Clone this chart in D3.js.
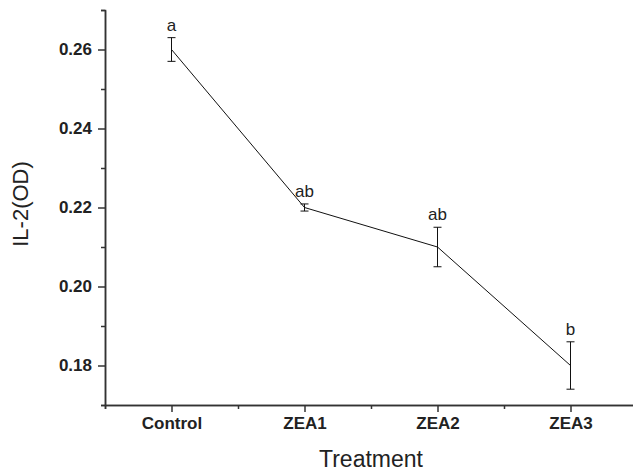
<!DOCTYPE html>
<html>
<head>
<meta charset="utf-8">
<script src="https://cdn.jsdelivr.net/npm/d3@7"></script>
<style>
  body { margin: 0; background: #fff; }
  svg { display: block; font-family: "Liberation Sans", Arial, sans-serif; }
</style>
</head>
<body>
<div id="chart"></div>
<script>
// values
var categories = ["Control", "ZEA1", "ZEA2", "ZEA3"];
var means = [0.260, 0.220, 0.210, 0.180];
var errors = [0.003, 0.0009, 0.005, 0.006];
var letters = ["a", "ab", "ab", "b"];
var yTicks = [0.18, 0.20, 0.22, 0.24, 0.26];
var yMinor = [0.17, 0.19, 0.21, 0.23, 0.25, 0.27];

var width = 633, height = 472;
var margin = {top: 10, right: -4, bottom: 67, left: 105};

var svg = d3.select("#chart")
  .append("svg")
    .attr("width", width)
    .attr("height", height);

// x is a linear scale over slots, categories sit in the middle of each
var x = d3.scaleLinear()
  .domain([0, categories.length])
  .range([margin.left, width - margin.right]);

var y = d3.scaleLinear()
  .domain([0.17, 0.27])
  .range([height - margin.bottom, margin.top]);

var data = categories.map(function(c, i) {
  return {name: c, pos: i + 0.5, mean: means[i], err: errors[i], letter: letters[i]};
});

// minor ticks first
svg.append("g")
  .attr("class", "axis")
  .attr("transform", "translate(0," + y(0.17) + ")")
  .call(d3.axisBottom(x).tickValues(d3.range(0, categories.length + 1)).tickSize(4).tickFormat(""));

svg.append("g")
  .attr("class", "axis")
  .attr("transform", "translate(" + x(0) + ",0)")
  .call(d3.axisLeft(y).tickValues(yMinor).tickSize(4).tickFormat(""));

// X axis
svg.append("g")
  .attr("class", "axis")
  .attr("transform", "translate(0," + y(0.17) + ")")
  .call(d3.axisBottom(x)
    .tickValues(data.map(function(d) { return d.pos; }))
    .tickFormat(function(v) { return categories[Math.floor(v)]; })
    .tickSize(7).tickSizeOuter(0).tickPadding(5))
  .selectAll("text")
    .style("font-size", "17px")
    .style("font-weight", "bold")
    .attr("fill", "#222");

// Y axis
svg.append("g")
  .attr("class", "axis")
  .attr("transform", "translate(" + x(0) + ",0)")
  .call(d3.axisLeft(y)
    .tickValues(yTicks)
    .tickFormat(d3.format(".2f"))
    .tickSize(7).tickSizeOuter(0).tickPadding(6))
  .selectAll("text")
    .style("font-size", "17px")
    .style("font-weight", "bold")
    .attr("fill", "#222");

svg.selectAll(".axis path, .axis line")
  .attr("stroke", "#333")
  .attr("stroke-width", 1.5);

// line
var line = d3.line()
  .x(function(d) { return x(d.pos); })
  .y(function(d) { return y(d.mean); });

svg.append("path")
  .datum(data)
  .attr("d", line)
  .attr("fill", "none")
  .attr("stroke", "#111")
  .attr("stroke-width", 1);

// error bars
var eb = svg.selectAll(".eb")
  .data(data)
  .enter()
  .append("g")
  .attr("class", "eb")
  .attr("stroke", "#111")
  .attr("stroke-width", 1);

eb.append("line")
  .attr("x1", function(d) { return x(d.pos); })
  .attr("x2", function(d) { return x(d.pos); })
  .attr("y1", function(d) { return y(d.mean + d.err); })
  .attr("y2", function(d) { return y(d.mean - d.err); });

eb.append("line")
  .attr("x1", function(d) { return x(d.pos) - 4; })
  .attr("x2", function(d) { return x(d.pos) + 4; })
  .attr("y1", function(d) { return y(d.mean + d.err); })
  .attr("y2", function(d) { return y(d.mean + d.err); });

eb.append("line")
  .attr("x1", function(d) { return x(d.pos) - 4; })
  .attr("x2", function(d) { return x(d.pos) + 4; })
  .attr("y1", function(d) { return y(d.mean - d.err); })
  .attr("y2", function(d) { return y(d.mean - d.err); });

// significance letters
svg.selectAll(".letter")
  .data(data)
  .enter()
  .append("text")
  .attr("class", "letter")
  .attr("x", function(d) { return x(d.pos); })
  .attr("y", function(d) { return y(d.mean + d.err) - 7; })
  .attr("text-anchor", "middle")
  .style("font-size", "17px")
  .attr("fill", "#222")
  .text(function(d) { return d.letter; });

// axis titles
svg.append("text")
  .attr("x", (x(0) + x(categories.length)) / 2)
  .attr("y", 467)
  .attr("text-anchor", "middle")
  .style("font-size", "23px")
  .attr("fill", "#222")
  .text("Treatment");

svg.append("text")
  .attr("transform", "translate(28," + 204 + ")rotate(-90)")
  .attr("text-anchor", "middle")
  .style("font-size", "22px")
  .attr("fill", "#222")
  .text("IL-2(OD)");
</script>
</body>
</html>
